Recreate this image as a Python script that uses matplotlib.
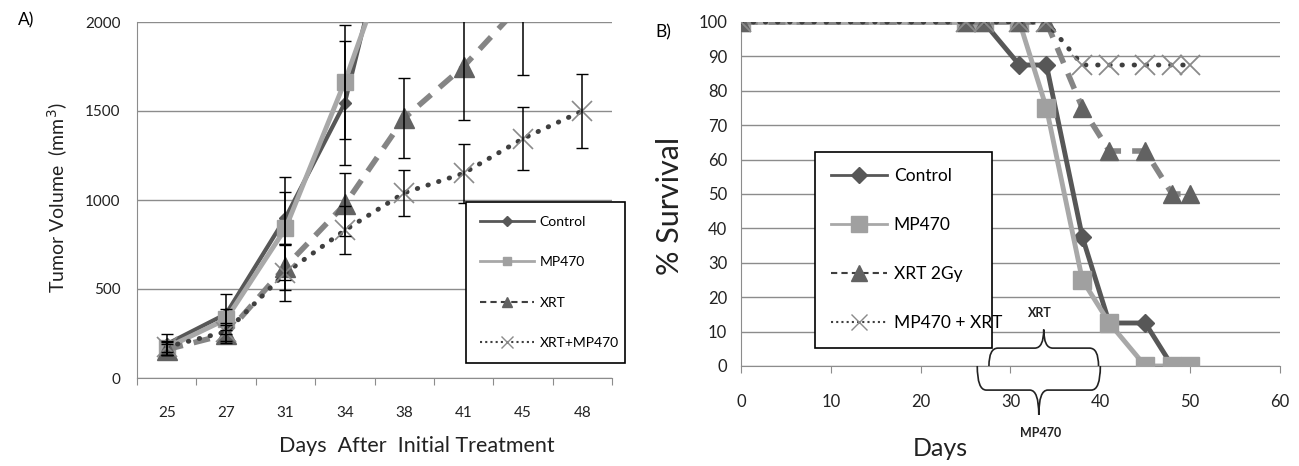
import numpy as np
import matplotlib
matplotlib.use('Agg')
import matplotlib.pyplot as plt
from matplotlib.path import Path
from matplotlib.patches import PathPatch
from matplotlib.lines import Line2D

plt.rcParams['font.family'] = ['Lato', 'DejaVu Sans']

# ---- Panel A: tumor volume ----
dni_a = ['25', '27', '31', '34', '38', '41', '45', '48']
control_a = [190, 360, 900, 1545, 2900]
control_a_err = [60, 110, 145, 350, 0]
mp470_a = [170, 330, 840, 1665, 2600]
mp470_a_err = [40, 60, 290, 320, 0]
xrt_a = [160, 245, 625, 975, 1460, 1750, 2110]
xrt_a_err = [30, 50, 130, 175, 225, 300, 410]
combo_a = [175, 260, 590, 830, 1040, 1150, 1345, 1500]
combo_a_err = [30, 50, 160, 135, 130, 165, 175, 210]

# ---- Panel B: survival ----
dni_b = [0, 25, 27, 31, 34, 38, 41, 45, 48, 50]
control_b = [100, 100, 100, 87.5, 87.5, 37.5, 12.5, 12.5, 0, 0]
mp470_b = [100, 100, 100, 100, 75, 25, 12.5, 0, 0, 0]
xrt_b = [100, 100, 100, 100, 100, 75, 62.5, 62.5, 50, 50]
combo_b = [100, 100, 100, 100, 100, 87.5, 87.5, 87.5, 87.5, 87.5]

# kolory
c_control = '#575757'
c_mp = '#a8a8a8'
c_xrt = '#858585'
c_xrt_m = '#626262'
c_combo = '#3f3f3f'
c_combo_m = '#8a8a8a'
c_grid = '#8c8c8c'

fig = plt.figure(figsize=(12.99, 4.66), dpi=100)
W, H = 1299, 466

def ax_px(x0, x1, y0, y1):
    return fig.add_axes([x0 / W, 1 - y1 / H, (x1 - x0) / W, (y1 - y0) / H])


def uchwyty(nazwy, ms_d, ms_s, ms_t, ms_x):
    # cienkie linie w legendzie, jak w Excelu
    return [
        Line2D([], [], color=c_control, lw=2, marker='D', ms=ms_d, label=nazwy[0]),
        Line2D([], [], color=c_mp, lw=2, marker='s', ms=ms_s, mfc='#a0a0a0',
               mec='#a0a0a0', label=nazwy[1]),
        Line2D([], [], color=c_combo, lw=1.5, ls=(0, (3, 2)), marker='^', ms=ms_t,
               mfc=c_xrt_m, mec=c_xrt_m, label=nazwy[2]),
        Line2D([], [], color=c_combo, lw=1.5, ls=(0, (1, 1.5)), marker='x', ms=ms_x,
               mew=1, mec=c_combo_m, label=nazwy[3]),
    ]

# ================= A =================
ax = ax_px(137, 612, 22, 378)
x = np.arange(len(dni_a))

ax.plot(x[:len(control_a)], control_a, color=c_control, lw=3, marker='D', ms=6, zorder=3)
ax.errorbar(x[:len(control_a)], control_a, yerr=control_a_err, fmt='none',
            ecolor='black', elinewidth=1.1, capsize=4, zorder=6)
ax.plot(x[:len(mp470_a)], mp470_a, color=c_mp, lw=3.5, marker='s', ms=11,
        mfc='#a0a0a0', mec='#a0a0a0', zorder=4)
ax.errorbar(x[:len(mp470_a)], mp470_a, yerr=mp470_a_err, fmt='none',
            ecolor='black', elinewidth=1.1, capsize=4, zorder=6)
ax.plot(x[:len(xrt_a)], xrt_a, color=c_xrt, lw=4, ls=(0, (3, 2)), marker='^', ms=14,
        mfc=c_xrt_m, mec=c_xrt_m, zorder=4)
ax.errorbar(x[:len(xrt_a)], xrt_a, yerr=xrt_a_err, fmt='none',
            ecolor='black', elinewidth=1.1, capsize=4, zorder=6)
ax.plot(x, combo_a, color=c_combo, lw=3.5, ls=(0, (0.1, 2.2)), dash_capstyle='round',
        marker='x', ms=14, mew=1.2, mec=c_combo_m, zorder=5)
ax.errorbar(x, combo_a, yerr=combo_a_err, fmt='none',
            ecolor='black', elinewidth=1.1, capsize=4, zorder=6)

ax.set_xlim(-0.5, len(dni_a) - 0.5)
ax.set_ylim(0, 2000)
ax.set_yticks([0, 500, 1000, 1500, 2000])
ax.set_xticks(np.arange(len(dni_a) + 1) - 0.5)
ax.set_xticklabels([])
ax.set_xticks(x, minor=True)
ax.set_xticklabels(dni_a, minor=True)
ax.tick_params(axis='x', which='major', direction='out', length=5, color=c_grid)
ax.tick_params(axis='x', which='minor', length=0, pad=20, labelsize=11, labelcolor='#222222')
ax.tick_params(axis='y', length=0, pad=12, labelsize=11, labelcolor='#222222')
ax.yaxis.grid(True, color=c_grid, lw=1)
ax.set_axisbelow(True)
for s in ['top', 'right']:
    ax.spines[s].set_visible(False)
for s in ['left', 'bottom']:
    ax.spines[s].set_color(c_grid)

leg = ax.legend(handles=uchwyty(['Control', 'MP470', 'XRT', 'XRT+MP470'], 5, 6, 7, 8),
                loc='upper left', bbox_to_anchor=(459 / W, 1 - 368 / H, 173 / W, 173 / H),
                bbox_transform=fig.transFigure, mode='expand', fontsize=10,
                handlelength=3.9, handletextpad=0.4, labelspacing=2.05, borderpad=1.0,
                fancybox=False, edgecolor='black', framealpha=1)
leg.get_frame().set_linewidth(1.2)
leg.set_zorder(10)

fig.text(18 / W, 1 - 20 / H, 'A)', fontsize=12.5, ha='left', va='center')
fig.text(58 / W, 1 - 198 / H, 'Tumor Volume  (mm$^3$)', rotation=90, fontsize=14,
         ha='center', va='center', color='#222222')
fig.text(417 / W, 1 - 446 / H, 'Days  After  Initial Treatment', fontsize=15.5,
         ha='center', va='center', color='#222222')

# ================= B =================
bx = ax_px(741, 1280, 22, 366)
bx.plot(dni_b, control_b, color=c_control, lw=3.5, marker='D', ms=9, zorder=3)
bx.plot(dni_b, mp470_b, color=c_mp, lw=3.5, marker='s', ms=13, mfc='#a0a0a0',
        mec='#a0a0a0', zorder=4)
bx.plot(dni_b, xrt_b, color=c_xrt, lw=4, ls=(0, (3, 2)), marker='^', ms=13,
        mfc=c_xrt_m, mec=c_xrt_m, zorder=5)
bx.plot(dni_b, combo_b, color=c_combo, lw=3.5, ls=(0, (0.1, 2.4)), dash_capstyle='round',
        marker='x', ms=14, mew=1.3, mec=c_combo_m, zorder=6)

bx.set_xlim(0, 60)
bx.set_ylim(0, 100)
bx.set_xticks(np.arange(0, 61, 10))
bx.set_yticks(np.arange(0, 101, 10))
bx.tick_params(axis='x', direction='out', length=5, color=c_grid, pad=15,
               labelsize=12, labelcolor='#222222')
bx.tick_params(axis='y', length=0, pad=10, labelsize=12, labelcolor='#222222')
bx.yaxis.grid(True, color=c_grid, lw=1)
bx.set_axisbelow(True)
for s in ['top', 'right']:
    bx.spines[s].set_visible(False)
for s in ['left', 'bottom']:
    bx.spines[s].set_color(c_grid)

leg2 = bx.legend(handles=uchwyty(['Control', 'MP470', 'XRT 2Gy', 'MP470 + XRT'], 8, 11, 11, 12),
                 loc='upper left', bbox_to_anchor=(806 / W, 1 - 339 / H, 195 / W, 196 / H),
                 bbox_transform=fig.transFigure, mode='expand', fontsize=12.5,
                 handlelength=3.2, handletextpad=0.4, labelspacing=1.9, borderpad=0.95,
                 fancybox=False, edgecolor='black', framealpha=1)
leg2.get_frame().set_linewidth(1.2)
leg2.set_zorder(10)


def klamra(a, x0, x1, y0, y1, y2, dx=1.0):
    xm = (x0 + x1) / 2
    verts = [(x0, y0), (x0, y1), (x0 + dx, y1),
             (xm - dx, y1),
             (xm, y1), (xm, y2),
             (xm, y1), (xm + dx, y1),
             (x1 - dx, y1),
             (x1, y1), (x1, y0)]
    codes = [Path.MOVETO, Path.CURVE3, Path.CURVE3,
             Path.LINETO,
             Path.CURVE3, Path.CURVE3,
             Path.CURVE3, Path.CURVE3,
             Path.LINETO,
             Path.CURVE3, Path.CURVE3]
    a.add_patch(PathPatch(Path(verts, codes), fill=False, lw=1.2, ec='#222222',
                          clip_on=False, zorder=7))

klamra(bx, 27.6, 39.8, 0, 5.2, 10.6)
klamra(bx, 26.3, 40.0, 0, -7.0, -14.2)
bx.text(33.3, 15.3, 'XRT', fontsize=9, fontweight='bold', ha='center', va='center',
        color='#222222')
bx.text(33.3, -19.5, 'MP470', fontsize=9, fontweight='bold', ha='center', va='center',
        color='#222222')

fig.text(655 / W, 1 - 32 / H, 'B)', fontsize=12.5, ha='left', va='center')
fig.text(670 / W, 1 - 206 / H, '% Survival', rotation=90, fontsize=22,
         ha='center', va='center', color='#222222')
fig.text(940 / W, 1 - 448 / H, 'Days', fontsize=18, ha='center', va='center',
         color='#222222')

fig.savefig('out.png', dpi=100)
